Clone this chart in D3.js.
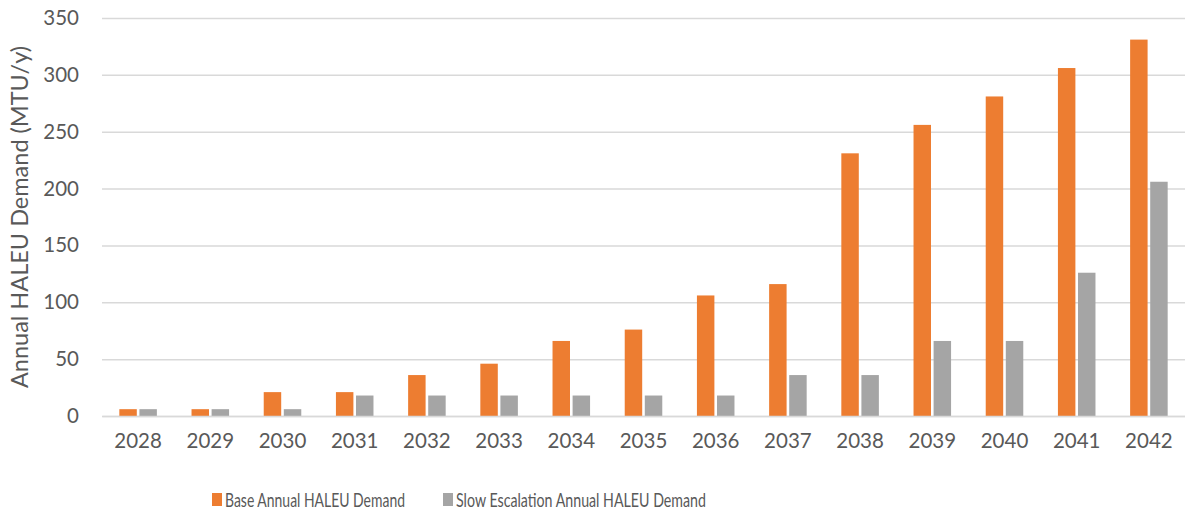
<!DOCTYPE html>
<html>
<head>
<meta charset="utf-8">
<script src="https://cdn.jsdelivr.net/npm/d3@7"></script>
<style>
  body { margin: 0; background: #fff; }
  text { font-family: Lato, "Open Sans", sans-serif; fill: #595959; }
</style>
</head>
<body>
<svg id="chart"></svg>
<script>
// chart data
var years = ["2028","2029","2030","2031","2032","2033","2034","2035","2036","2037","2038","2039","2040","2041","2042"];
var baseDemand = [6, 6, 21, 21, 36, 46, 66, 76, 106, 116, 231, 256, 281, 306, 331];
var slowDemand = [6, 6, 6, 18, 18, 18, 18, 18, 18, 36, 36, 66, 66, 126, 206];
var seriesNames = ["Base Annual HALEU Demand", "Slow Escalation Annual HALEU Demand"];
var seriesColors = ["#ED7D31", "#A5A5A5"];
var yTicks = [0, 50, 100, 150, 200, 250, 300, 350];

function drawChart(svgEl) {
  var margin = {top: 18, right: 0, bottom: 96, left: 102},
      width = 1185 - margin.left - margin.right,
      height = 512 - margin.top - margin.bottom;

  var svg = d3.select(svgEl)
      .attr("width", 1185)
      .attr("height", 512);

  var g = svg.append("g")
      .attr("transform", "translate(" + margin.left + "," + margin.top + ")");

  var x = d3.scaleBand()
      .domain(years)
      .range([0, width])
      .paddingInner(0.48)
      .paddingOuter(0.24);

  var xSub = d3.scaleBand()
      .domain([0, 1])
      .range([0, x.bandwidth()])
      .paddingInner(0.13);

  var y = d3.scaleLinear()
      .domain([0, 350])
      .range([height, 0]);

  // gridlines
  g.append("g")
      .attr("class", "grid")
      .call(d3.axisLeft(y).tickValues(yTicks).tickSize(-width).tickFormat(""))
      .call(function(s) {
        s.select(".domain").remove();
        s.selectAll("line").attr("stroke", "#d9d9d9").attr("stroke-width", 1.5);
      });

  // bars
  var data = years.map(function(yr, i) {
    return {year: yr, values: [baseDemand[i], slowDemand[i]]};
  });

  var groups = g.selectAll(".yr")
      .data(data)
      .enter().append("g")
      .attr("class", "yr")
      .attr("transform", function(d) { return "translate(" + x(d.year) + ",0)"; });

  groups.selectAll("rect")
      .data(function(d) { return d.values.map(function(v, k) { return {k: k, v: v}; }); })
      .enter().append("rect")
      .attr("x", function(d) { return xSub(d.k); })
      .attr("y", function(d) { return y(d.v); })
      .attr("width", xSub.bandwidth())
      .attr("height", function(d) { return height - y(d.v); })
      .attr("fill", function(d) { return seriesColors[d.k]; });

  // x axis
  var xAxis = g.append("g")
      .attr("transform", "translate(0," + height + ")")
      .call(d3.axisBottom(x).tickSize(0).tickPadding(17));
  xAxis.select(".domain").attr("stroke", "#d9d9d9").attr("stroke-width", 1.5);
  xAxis.selectAll("text").style("font-size", "20.5px").attr("fill", "#595959");

  // y axis labels
  var yAxis = g.append("g")
      .call(d3.axisLeft(y).tickValues(yTicks).tickSize(0).tickPadding(23));
  yAxis.select(".domain").remove();
  yAxis.selectAll("text").style("font-size", "20.5px").attr("fill", "#595959");

  // y axis title
  svg.append("text")
      .attr("transform", "translate(28," + (margin.top + height / 2) + ") rotate(-90)")
      .style("text-anchor", "middle")
      .style("font-size", "23.5px")
      .text("Annual HALEU Demand (MTU/y)");

  // legend
  var legendX = [212, 443];
  var legendW = [180, 250];
  var legend = svg.selectAll(".legend")
      .data(seriesNames)
      .enter().append("g")
      .attr("class", "legend")
      .attr("transform", function(d, i) { return "translate(" + legendX[i] + ",493)"; });

  legend.append("rect")
      .attr("width", 10)
      .attr("height", 13)
      .attr("fill", function(d, i) { return seriesColors[i]; });

  legend.append("text")
      .attr("x", 13)
      .attr("y", 7)
      .attr("dy", "0.35em")
      .style("font-size", "19px")
      .attr("textLength", function(d, i) { return legendW[i]; })
      .attr("lengthAdjust", "spacingAndGlyphs")
      .text(function(d) { return d; });
}

drawChart(document.querySelector("#chart"));
</script>
</body>
</html>
